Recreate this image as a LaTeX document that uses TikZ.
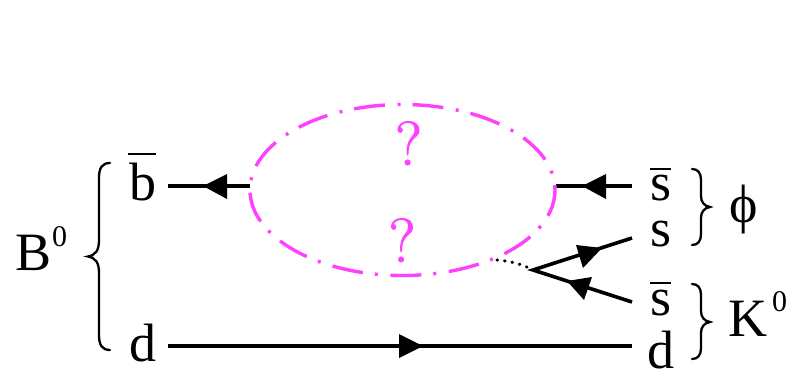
\documentclass[tikz,border=0pt]{standalone}
\usepackage{fontspec}
\setmainfont{Liberation Serif}
\newfontfamily\qfont[FakeBold=1.6]{Latin Modern Roman}
\definecolor{pinkline}{HTML}{FF40FF}
\tikzset{
  lab/.style={inner sep=0pt,outer sep=0pt,anchor=base,font=\fontsize{54}{54}\selectfont},
  sup0/.style={inner sep=0pt,outer sep=0pt,anchor=base,font=\fontsize{30}{30}\selectfont},
  qm/.style={inner sep=0pt,outer sep=0pt,anchor=base,text=pinkline,font=\qfont\fontsize{62}{62}\selectfont},
  quark/.style={line width=3.6pt},
  head/.style={fill=black,draw=none},
  bar/.style={line width=1.2pt},
  brace/.style={line width=2.3pt,line cap=round},
  loopline/.style={pinkline,line width=3.4pt,dash pattern=on 31pt off 12.6pt on 3pt off 12pt,dash phase=4pt},
  dotlink/.style={line width=3.2pt,line cap=round,dash pattern=on 0.5pt off 7.1pt},
}
\begin{document}
\begin{tikzpicture}[x=1pt,y=-1pt]
\useasboundingbox (0,0) rectangle (787,369);
\clip (0,0) rectangle (787,369);
% labels
\node[lab] (B) at (33.5,270) {B};
\node[sup0] (B0) at (59.5,246) {0};
\node[lab] (b) at (142.5,200) {b};
\node[lab] (d) at (142.5,361) {d};
\node[lab] (s1) at (660.5,200.5) {s};
\node[lab] (s2) at (660.5,246.5) {s};
\node[lab] (s3) at (660.5,315.5) {s};
\node[lab] (d2) at (661,368) {d};
\node[lab] (phi) at (743.5,222) {ϕ};
\node[lab] (K) at (747.5,336) {K};
\node[sup0] (K0) at (779.5,311) {0};
\node[qm] (q1) at (408.5,165) {?};
\node[qm] (q2) at (402,262) {?};
% overbars
\coordinate (bl) at (128,154); \coordinate (br) at (156,154);
\draw[bar] (bl) -- (br);
\coordinate (s1l) at (650,169); \coordinate (s1r) at (671,169);
\draw[bar] (s1l) -- (s1r);
\coordinate (s3l) at (650,283); \coordinate (s3r) at (671,283);
\draw[bar] (s3l) -- (s3r);
% braces
\draw[brace] (110,163) .. controls (102,163) and (99,168) .. (99,178)
  -- (99,240) .. controls (99,250) and (96,255) .. (88,256.5)
  .. controls (96,258) and (99,263) .. (99,273)
  -- (99,335) .. controls (99,345) and (102,350) .. (110,350);
\draw[brace] (692,169) .. controls (698,169) and (701,173) .. (701,180)
  -- (701,196) .. controls (701,202) and (704,206) .. (710,207)
  .. controls (704,208) and (701,212) .. (701,218)
  -- (701,234) .. controls (701,241) and (698,245) .. (692,245);
\draw[brace] (692,284) .. controls (698,284) and (701,288) .. (701,295)
  -- (701,311) .. controls (701,317) and (704,321) .. (710,322)
  .. controls (704,323) and (701,327) .. (701,333)
  -- (701,348) .. controls (701,355) and (698,359) .. (692,359);
% quark lines
\coordinate (bq) at (168,186); \coordinate (la) at (250,186);
\coordinate (ra) at (556,186); \coordinate (sq) at (632,186);
\coordinate (dl) at (168,346); \coordinate (dr) at (632,346);
\coordinate (v) at (533,270); \coordinate (se) at (632,238); \coordinate (sb) at (632,302);
\coordinate (ls) at (497,260);
\draw[quark] (bq) -- (la);
\draw[quark] (ra) -- (sq);
\draw[quark] (dl) -- (dr);
\draw[quark,line join=miter] (se) -- (v) -- (sb);
\fill[head] (203,186) -- (227,174) -- (227,199) -- cycle;
\fill[head] (582,186) -- (606,174) -- (606,199) -- cycle;
\fill[head] (423,346) -- (399,334) -- (399,358) -- cycle;
\fill[head] (602,248) -- (576,245) -- (583,268) -- cycle;
\fill[head] (567,281) -- (592,277) -- (584,300) -- cycle;
% loop
\draw[loopline] (402.5,190) ellipse [x radius=152.5,y radius=85.5];
% dotted link
\draw[dotlink] (ls) .. controls (508,261) and (520,263) .. (v);
\end{tikzpicture}
\end{document}
